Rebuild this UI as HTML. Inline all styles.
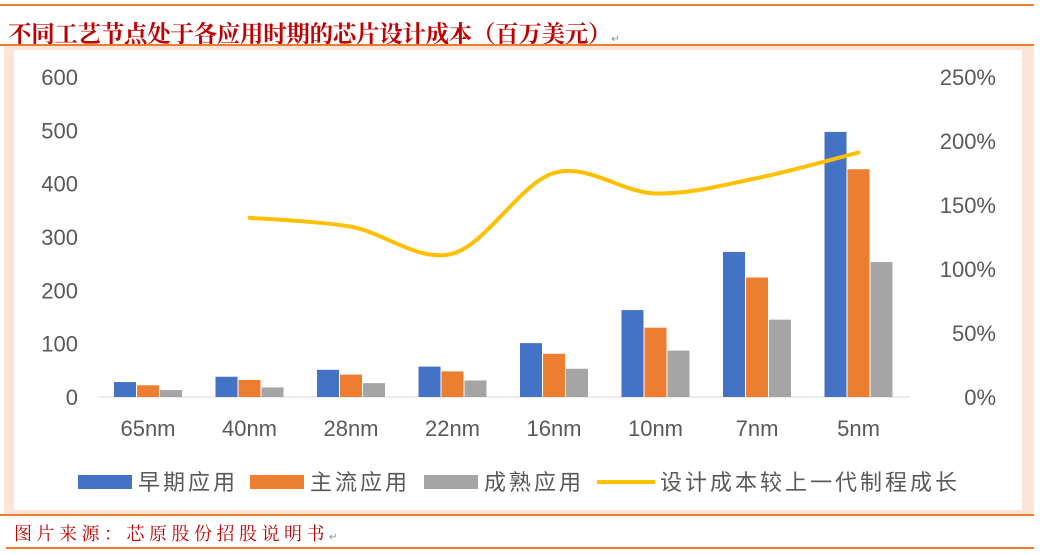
<!DOCTYPE html>
<html><head><meta charset="utf-8"><style>
body{margin:0;background:#fff;width:1040px;height:555px;overflow:hidden;position:relative;font-family:"Liberation Sans","Noto Sans CJK SC",sans-serif}
.ab{position:absolute}
</style></head><body>
<div class="ab" style="left:0;top:4px;width:1034px;height:2px;background:#ed7d31"></div>
<div class="ab" style="left:8px;top:15px;font-family:'Liberation Serif','Noto Serif CJK SC',serif;font-size:23.5px;font-weight:bold;color:#c00000;letter-spacing:-0.3px;white-space:nowrap">不同工艺节点处于各应用时期的芯片设计成本（百万美元）<span style="font-size:10px;color:#888;font-weight:normal">↵</span></div>
<div class="ab" style="left:0;top:44px;width:1034px;height:2px;background:#ed7d31"></div>
<div class="ab" style="left:4px;top:46px;width:1030px;height:468px;background:#fbe5d6"></div>
<div class="ab" style="left:14px;top:50px;width:1008px;height:460px;background:#fff"></div>
<div class="ab" style="left:0;top:514px;width:1034px;height:2px;background:#ed7d31"></div>
<div class="ab" style="left:14px;top:520px;font-family:'Liberation Serif','Noto Serif CJK SC',serif;font-size:18px;color:#c00000;letter-spacing:4.5px;white-space:nowrap">图片来源：芯原股份招股说明书<span style="font-size:10px;color:#888;letter-spacing:0">↵</span></div>
<div class="ab" style="left:6px;top:547px;width:1028px;height:2px;background:#ed7d31"></div>
<svg class="ab" style="left:0;top:0" width="1040" height="555" id="chart"></svg>
<script>
const categories=["65nm","40nm","28nm","22nm","16nm","10nm","7nm","5nm"];
const early=[28,38,51,57,101,163,272,497];
const mainstream=[22,32,42,48,81,130,224,427];
const mature=[13,18,26,31,53,87,145,253];
const growth=[null,140,133,112,175,159,171,191];
const leftTicks=[0,100,200,300,400,500,600];
const rightTicks=["0%","50%","100%","150%","200%","250%"];
const NS="http://www.w3.org/2000/svg";
const svg=document.getElementById('chart');
const y0=397,yTop=77;
const yL=v=>y0-(v/600)*(y0-yTop);
const yR=v=>y0-(v/250)*(y0-yTop);
const xC=i=>148+i*101.5;
function mk(t,a){const e=document.createElementNS(NS,t);for(const k in a)e.setAttribute(k,a[k]);svg.appendChild(e);return e;}
let ax=mk('line',{x1:97,x2:910,y1:y0,y2:y0,stroke:'#d9d9d9','stroke-width':1});


leftTicks.forEach(v=>{const t=mk('text',{x:78,y:yL(v)+8,'text-anchor':'end','font-size':22,fill:'#595959','font-family':'Liberation Sans'});t.textContent=v;

});
rightTicks.forEach((s,i)=>{const t=mk('text',{x:996,y:yR(i*50)+8,'text-anchor':'end','font-size':22,fill:'#595959','font-family':'Liberation Sans'});t.textContent=s;

});
categories.forEach((c,i)=>{const t=mk('text',{x:xC(i),y:436,'text-anchor':'middle','font-size':22,fill:'#595959','font-family':'Liberation Sans'});t.textContent=c;

});
const series=[[early,'#4472c4','early'],[mainstream,'#ed7d31','mainstream'],[mature,'#a5a5a5','mature']];
series.forEach(([arr,col,nm],s)=>{arr.forEach((v,i)=>{const x=xC(i)-34+s*23;const r=mk('rect',{x:x,y:yL(v),width:22,height:y0-yL(v),fill:col});

});});
const pts=[];growth.forEach((v,i)=>{if(v!==null)pts.push([xC(i),yR(v)]);});
let d='M'+pts[0][0]+','+pts[0][1];
for(let i=0;i<pts.length-1;i++){const p0=pts[i-1]||pts[i],p1=pts[i],p2=pts[i+1],p3=pts[i+2]||p2;
d+=' C'+(p1[0]+(p2[0]-p0[0])/6)+','+(p1[1]+(p2[1]-p0[1])/6)+' '+(p2[0]-(p3[0]-p1[0])/6)+','+(p2[1]-(p3[1]-p1[1])/6)+' '+p2[0]+','+p2[1];}
const ln=mk('path',{d:d,fill:'none',stroke:'#ffc000','stroke-width':4,'stroke-linecap':'round'});


const leg=[['早期应用','#4472c4',78,'rect'],['主流应用','#ed7d31',250,'rect'],['成熟应用','#a5a5a5',424,'rect'],['设计成本较上一代制程成长','#ffc000',597,'line']];
leg.forEach(([t,c,x,k])=>{let m;
if(k==='rect'){m=mk('rect',{x:x,y:475,width:54,height:14,fill:c});}else{m=mk('line',{x1:x,x2:x+58,y1:482,y2:482,stroke:c,'stroke-width':4});}


const tx=mk('text',{x:x+(k==='rect'?60:63),y:490,'font-size':22,'letter-spacing':3,fill:'#595959','font-family':'Noto Sans CJK SC, sans-serif'});tx.textContent=t;

});
</script>
</body></html>
